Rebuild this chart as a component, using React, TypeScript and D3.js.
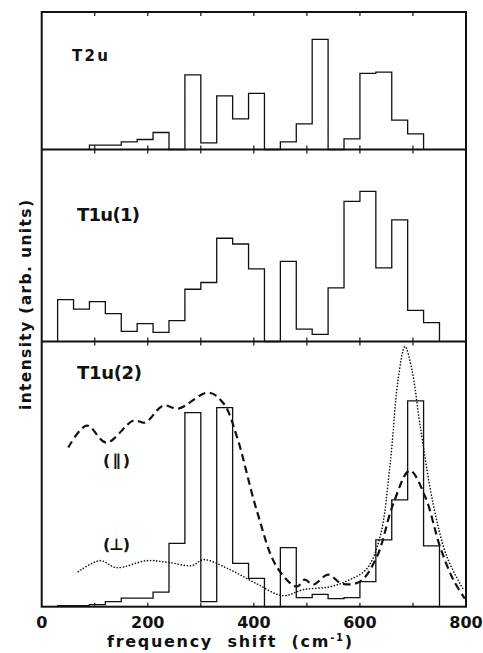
import React from "react";
import * as d3 from "d3";

// ---------- data (intensities in arbitrary units) ----------
const binWidth = 30;

const t2uBins = [90, 120, 150, 180, 210, 240, 270, 300, 330, 360, 390, 420, 450, 480, 510, 540, 570, 600, 630, 660, 690];
const t2uValues = [4.3, 4.3, 7.6, 10, 17, 0, 74.6, 6.6, 53.6, 30.6, 56, 0, 7.6, 25.6, 110, 0, 10.6, 76, 77.3, 29.3, 15.6];

const t1u1Bins = [30, 60, 90, 120, 150, 180, 210, 240, 270, 300, 330, 360, 390, 420, 450, 480, 510, 540, 570, 600, 630, 660, 690, 720];
const t1u1Values = [41.7, 32.3, 39.7, 27.7, 10, 17.7, 9, 20.7, 52, 58.7, 102.7, 97, 72.3, 0, 79.7, 12.3, 7, 53.3, 139.3, 149.3, 73.3, 121, 31, 18.7];

const t1u2Bins = [30, 60, 90, 120, 150, 180, 210, 240, 270, 300, 330, 360, 390, 420, 450, 480, 510, 540, 570, 600, 630, 660, 690, 720];
const t1u2Values = [1, 1, 2, 5, 8.5, 8.5, 14.5, 63.3, 194, 5, 199, 43.3, 28.3, 0, 59, 9, 12.3, 8, 9, 25, 66.7, 106.7, 205.7, 60.7];

// measured spectra (parallel = dashed, perpendicular = dotted)
const parFreq = [50, 85, 122, 173, 195, 229, 258, 314, 343, 368, 405, 443, 481, 496, 512, 540, 566, 600, 632, 663, 694, 723, 751, 776, 798];
const parValues = [159, 181, 164, 186, 184, 201, 198, 214, 203, 170, 97, 40, 20, 27, 22, 32, 23, 25, 50, 103, 136, 110, 60, 27, 8];

const perpFreq = [69, 110, 141, 198, 242, 283, 305, 355, 405, 455, 493, 544, 581, 613, 638, 657, 672, 685, 698, 713, 738, 764, 795];
const perpValues = [35, 46, 39, 46, 44, 41, 47, 37, 23, 11, 17, 20, 27, 38, 70, 143, 227, 260, 237, 183, 103, 50, 17];

const xTicks = [0, 200, 400, 600, 800];
const minorTicks = [100, 200, 300, 400, 500, 600, 700];

const panelNames = ["T2u", "T1u(1)", "T1u(2)"];
const panelMax = [137.3, 191, 265];

// ---------- layout ----------
const W = 483;
const H = 653;
const left = 41.7;
const right = 466;
const panelEdges = [12, 149.5, 341.5, 606.7];
const FONT = "'DejaVu Sans', Verdana, sans-serif";

export default function App() {
  const x = d3.scaleLinear().domain([0, 800]).range([left, right]);
  const ys = panelMax.map((m, i) =>
    d3.scaleLinear().domain([0, m]).range([panelEdges[i + 1], panelEdges[i]])
  );

  const histPath = (bins: number[], vals: number[], y: d3.ScaleLinear<number, number>) => {
    const pts: [number, number][] = [[bins[0], 0]];
    bins.forEach((b, i) => pts.push([b, vals[i]]));
    pts.push([bins[bins.length - 1] + binWidth, 0]);
    return d3
      .line<[number, number]>()
      .x((d) => x(d[0]))
      .y((d) => y(d[1]))
      .curve(d3.curveStepAfter)(pts) as string;
  };

  const smooth = (fs: number[], vs: number[], y: d3.ScaleLinear<number, number>) =>
    d3
      .line<number>()
      .x((_, i) => x(fs[i]))
      .y((d) => y(d))
      .curve(d3.curveCatmullRom.alpha(0.5))(vs) as string;

  const hists = [
    histPath(t2uBins, t2uValues, ys[0]),
    histPath(t1u1Bins, t1u1Values, ys[1]),
    histPath(t1u2Bins, t1u2Values, ys[2]),
  ];

  const labelPos = [
    { x: 72, y: 61, size: 15, len: 36 },
    { x: 77, y: 220.5, size: 18, len: 63 },
    { x: 77, y: 378.5, size: 18, len: 65 },
  ];

  return (
    <svg width={W} height={H} style={{ position: "absolute", left: 0, top: 0, background: "#fff" }}>
      <rect width={W} height={H} fill="#fff" />
      {/* histograms */}
      {hists.map((d, i) => (
        <path key={i} d={d} fill="none" stroke="#111" strokeWidth={1.3} />
      ))}
      {/* measured curves */}
      <path
        d={smooth(parFreq, parValues, ys[2])}
        fill="none"
        stroke="#111"
        strokeWidth={2.2}
        strokeDasharray="7.5 4.5"
      />
      <path
        d={smooth(perpFreq, perpValues, ys[2])}
        fill="none"
        stroke="#111"
        strokeWidth={1.6}
        strokeDasharray="0.1 3"
        strokeLinecap="round"
      />
      {/* frame and separators */}
      <rect
        x={left}
        y={panelEdges[0]}
        width={right - left}
        height={panelEdges[3] - panelEdges[0]}
        fill="none"
        stroke="#111"
        strokeWidth={2}
      />
      {[panelEdges[1], panelEdges[2]].map((yy, i) => (
        <line key={i} x1={left} x2={right} y1={yy} y2={yy} stroke="#111" strokeWidth={2} />
      ))}
      {/* inward ticks */}
      {[0, 1, 2].map((p) =>
        minorTicks.map((t) => (
          <g key={`${p}-${t}`}>
            <line x1={x(t)} x2={x(t)} y1={panelEdges[p]} y2={panelEdges[p] + 4} stroke="#111" strokeWidth={1.2} />
            <line x1={x(t)} x2={x(t)} y1={panelEdges[p + 1]} y2={panelEdges[p + 1] - 4} stroke="#111" strokeWidth={1.2} />
          </g>
        ))
      )}
      {/* panel labels */}
      {panelNames.map((n, i) => (
        <text
          key={n}
          x={labelPos[i].x}
          y={labelPos[i].y}
          fontFamily={FONT}
          fontWeight="bold"
          fontSize={labelPos[i].size}
          textLength={labelPos[i].len}
          lengthAdjust="spacing"
          fill="#111"
        >
          {n}
        </text>
      ))}
      <text x={103} y={466} fontFamily={FONT} fontWeight="bold" fontSize={16} fill="#111" textLength={27} lengthAdjust="spacing">
        (<tspan fontStyle="italic">∥</tspan>)
      </text>
      <text x={103} y={550} fontFamily={FONT} fontWeight="bold" fontSize={16} fill="#111" textLength={27} lengthAdjust="spacing">
        (⊥)
      </text>
      {/* x tick labels */}
      {xTicks.map((t) => (
        <text
          key={t}
          x={x(t)}
          y={628}
          textAnchor="middle"
          fontFamily={FONT}
          fontWeight="bold"
          fontSize={16}
          fill="#111"
        >
          {t}
        </text>
      ))}
      {/* axis titles */}
      <text x={107} y={647} fontFamily={FONT} fontWeight="bold" fontSize={16} fill="#111" xmlSpace="preserve" textLength={245} lengthAdjust="spacing">
        {"frequency  shift  (cm"}
        <tspan fontSize={10} dy={-6}>-1</tspan>
        <tspan dy={6}>)</tspan>
      </text>
      <text
        transform="translate(31,305) rotate(-90)"
        textAnchor="middle"
        fontFamily={FONT}
        fontWeight="bold"
        fontSize={15.5}
        textLength={210}
        lengthAdjust="spacing"
        fill="#111"
      >
        intensity (arb. units)
      </text>
    </svg>
  );
}
